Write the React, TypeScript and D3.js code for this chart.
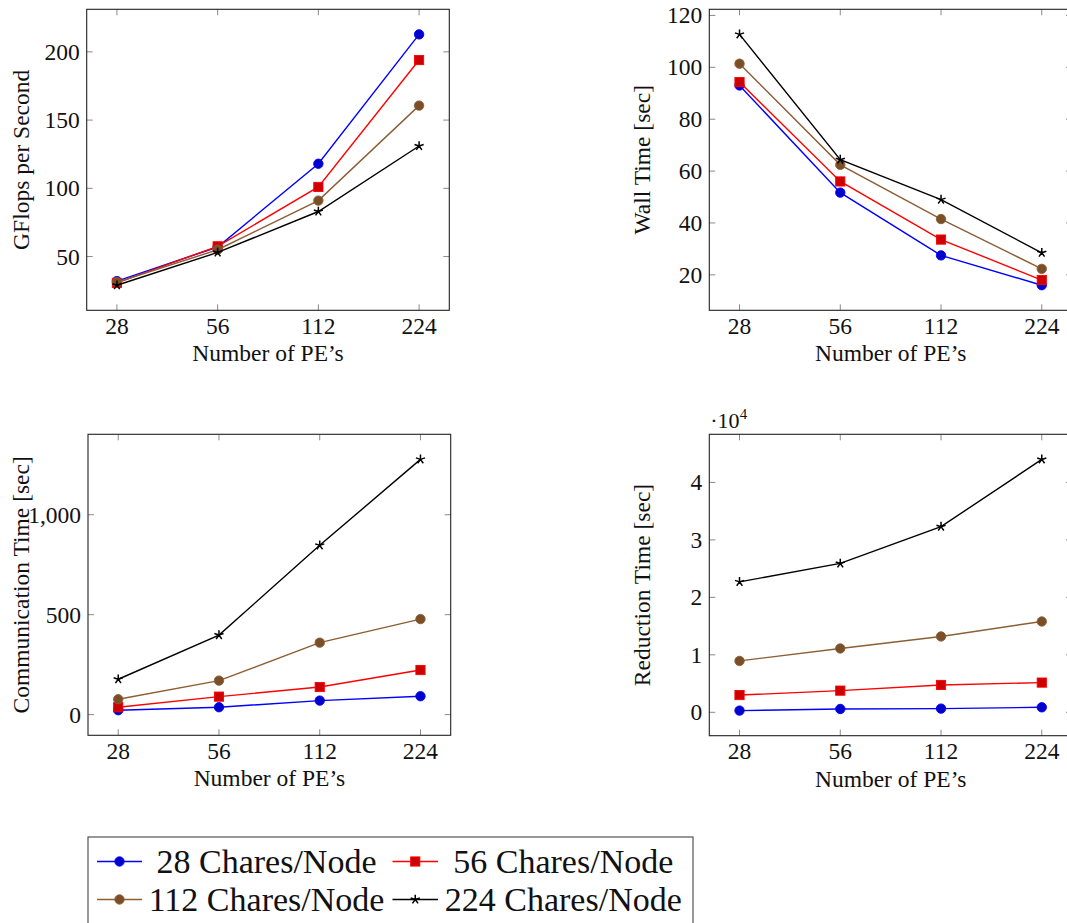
import React from "react";
import * as d3 from "d3";

const pes = [28, 56, 112, 224];
const seriesNames = ["28 Chares/Node", "56 Chares/Node", "112 Chares/Node", "224 Chares/Node"];
const seriesColors = ["#0000ff", "#ff0000", "#8b5e34", "#000000"];
const markerFills = ["#0000cc", "#cc0000", "#7a4f28", "#000000"];
const markerShapes = ["circle", "square", "circle", "star"];

const gflops28 = [32, 57, 118, 212.8];
const gflops56 = [30.7, 57.5, 101, 194];
const gflops112 = [31.2, 55, 91, 160.6];
const gflops224 = [29, 53, 83, 131];

const wall28 = [93, 51.7, 27.5, 16];
const wall56 = [94.3, 56, 33.6, 18];
const wall112 = [101.4, 62.4, 41.5, 22.3];
const wall224 = [112.7, 64.4, 49, 28.5];

const comm28 = [22, 37, 70, 92];
const comm56 = [37, 90, 138, 223];
const comm112 = [77, 170, 360, 478];
const comm224 = [177, 398, 847, 1277];

const red28 = [300, 580, 640, 870];
const red56 = [3000, 3770, 4760, 5170];
const red112 = [8940, 11100, 13200, 15800];
const red224 = [22700, 25900, 32300, 44000];

const gflopsTicks = [50, 100, 150, 200];
const wallTicks = [20, 40, 60, 80, 100, 120];
const commTicks = [0, 500, 1000];
const redTicks = [0, 10000, 20000, 30000, 40000];

const FONT = "Liberation Serif, DejaVu Serif, Times New Roman, serif";

type Box = { left: number; right: number; top: number; bottom: number };

function Marker({ shape, x, y, color, fill }: { shape: string; x: number; y: number; color: string; fill: string }) {
  if (shape === "circle") return <circle cx={x} cy={y} r={4.7} fill={fill} stroke={color} strokeWidth={0.9} />;
  if (shape === "square") return <rect x={x - 4.6} y={y - 4.6} width={9.2} height={9.2} fill={fill} stroke={color} strokeWidth={0.9} />;
  const r = 4.8;
  const arms = d3.range(5).map((i) => {
    const a = -Math.PI / 2 + (i * 2 * Math.PI) / 5;
    return `M${x},${y}L${x + r * Math.cos(a)},${y + r * Math.sin(a)}`;
  });
  return <path d={arms.join("")} stroke={color} strokeWidth={1.5} fill="none" />;
}

function Panel({ box, series, ticks, fmt, ylabel, ylabelX, scaleNote }: {
  box: Box; series: number[][]; ticks: number[]; fmt: (v: number) => string; ylabel: string; ylabelX: number; scaleNote?: boolean;
}) {
  const lx = Math.log2(pes[0]);
  const hx = Math.log2(pes[pes.length - 1]);
  const ex = (hx - lx) * 0.1;
  const x = d3.scaleLog().base(2).domain([Math.pow(2, lx - ex), Math.pow(2, hx + ex)]).range([box.left, box.right]);
  const all = series.flat();
  const mn = d3.min(all)!;
  const mx = d3.max(all)!;
  const ey = (mx - mn) * 0.1;
  const y = d3.scaleLinear().domain([mn - ey, mx + ey]).range([box.bottom, box.top]);
  const line = d3.line<number>().x((_, i) => x(pes[i])).y((d) => y(d));
  const tl = 6;
  const cy = (box.top + box.bottom) / 2;
  const cx = (box.left + box.right) / 2;
  return (
    <g>
      {pes.map((p) => (
        <g key={"xt" + p}>
          <line x1={x(p)} x2={x(p)} y1={box.bottom} y2={box.bottom - tl} stroke="#8a8a8a" strokeWidth={1} />
          <line x1={x(p)} x2={x(p)} y1={box.top} y2={box.top + tl} stroke="#8a8a8a" strokeWidth={1} />
          <text x={x(p)} y={box.bottom + 23.5} textAnchor="middle" fontSize={23.5} fontFamily={FONT} fill="#111">{p}</text>
        </g>
      ))}
      {ticks.map((t) => (
        <g key={"yt" + t}>
          <line x1={box.left} x2={box.left + tl} y1={y(t)} y2={y(t)} stroke="#8a8a8a" strokeWidth={1} />
          <line x1={box.right} x2={box.right - tl} y1={y(t)} y2={y(t)} stroke="#8a8a8a" strokeWidth={1} />
          <text x={box.left - 7} y={y(t) + 8} textAnchor="end" fontSize={23.5} fontFamily={FONT} fill="#111">{fmt(t)}</text>
        </g>
      ))}
      <rect x={box.left} y={box.top} width={box.right - box.left} height={box.bottom - box.top} fill="none" stroke="#222" strokeWidth={1.1} />
      {series.map((s, si) => (
        <g key={"s" + si}>
          <path d={line(s) || ""} fill="none" stroke={seriesColors[si]} strokeWidth={1.4} />
          {s.map((v, i) => (
            <Marker key={i} shape={markerShapes[si]} x={x(pes[i])} y={y(v)} color={seriesColors[si]} fill={markerFills[si]} />
          ))}
        </g>
      ))}
      <text x={cx} y={box.bottom + 51} textAnchor="middle" fontSize={23.5} fontFamily={FONT} fill="#111">Number of PE’s</text>
      <text transform={`translate(${ylabelX},${cy}) rotate(-90)`} textAnchor="middle" fontSize={23.5} fontFamily={FONT} fill="#111">{ylabel}</text>
      {scaleNote && (
        <text x={box.left + 1} y={box.top - 6} fontSize={22} fontFamily={FONT} fill="#111">
          ·10<tspan dy={-9} fontSize={15}>4</tspan>
        </text>
      )}
    </g>
  );
}

export default function App() {
  const fmtComma = d3.format(",");
  const legendCols = [
    { sx0: 97, sx1: 142, tc: 266.5 },
    { sx0: 392.5, sx1: 438, tc: 563.3 },
  ];
  const legendRows = [861.5, 899.5];
  return (
    <svg width={1067} height={923} style={{ position: "absolute", left: 0, top: 0, background: "#fff" }}>
      <Panel box={{ left: 86.7, right: 449.3, top: 9.3, bottom: 310.3 }} series={[gflops28, gflops56, gflops112, gflops224]} ticks={gflopsTicks} fmt={(v) => String(v)} ylabel="GFlops per Second" ylabelX={29} />
      <Panel box={{ left: 709.3, right: 1072, top: 9.3, bottom: 310.3 }} series={[wall28, wall56, wall112, wall224]} ticks={wallTicks} fmt={(v) => String(v)} ylabel="Wall Time [sec]" ylabelX={650} />
      <Panel box={{ left: 88, right: 450.7, top: 434.3, bottom: 735.3 }} series={[comm28, comm56, comm112, comm224]} ticks={commTicks} fmt={(v) => fmtComma(v)} ylabel="Communication Time [sec]" ylabelX={29} />
      <Panel box={{ left: 709.3, right: 1072, top: 434.3, bottom: 735.7 }} series={[red28, red56, red112, red224]} ticks={redTicks} fmt={(v) => String(v / 10000)} ylabel="Reduction Time [sec]" ylabelX={650} scaleNote />
      <rect x={88} y={837} width={605} height={120} fill="#fff" stroke="#444" strokeWidth={1.1} />
      {seriesNames.map((name, i) => {
        const col = legendCols[i % 2];
        const ry = legendRows[Math.floor(i / 2)];
        const mx = (col.sx0 + col.sx1) / 2;
        return (
          <g key={name}>
            <line x1={col.sx0} x2={col.sx1} y1={ry} y2={ry} stroke={seriesColors[i]} strokeWidth={1.6} />
            <Marker shape={markerShapes[i]} x={mx} y={ry} color={seriesColors[i]} fill={markerFills[i]} />
            <text x={col.tc} y={ry + 11} textAnchor="middle" fontSize={34} fontFamily={FONT} fill="#111">{name}</text>
          </g>
        );
      })}
    </svg>
  );
}
